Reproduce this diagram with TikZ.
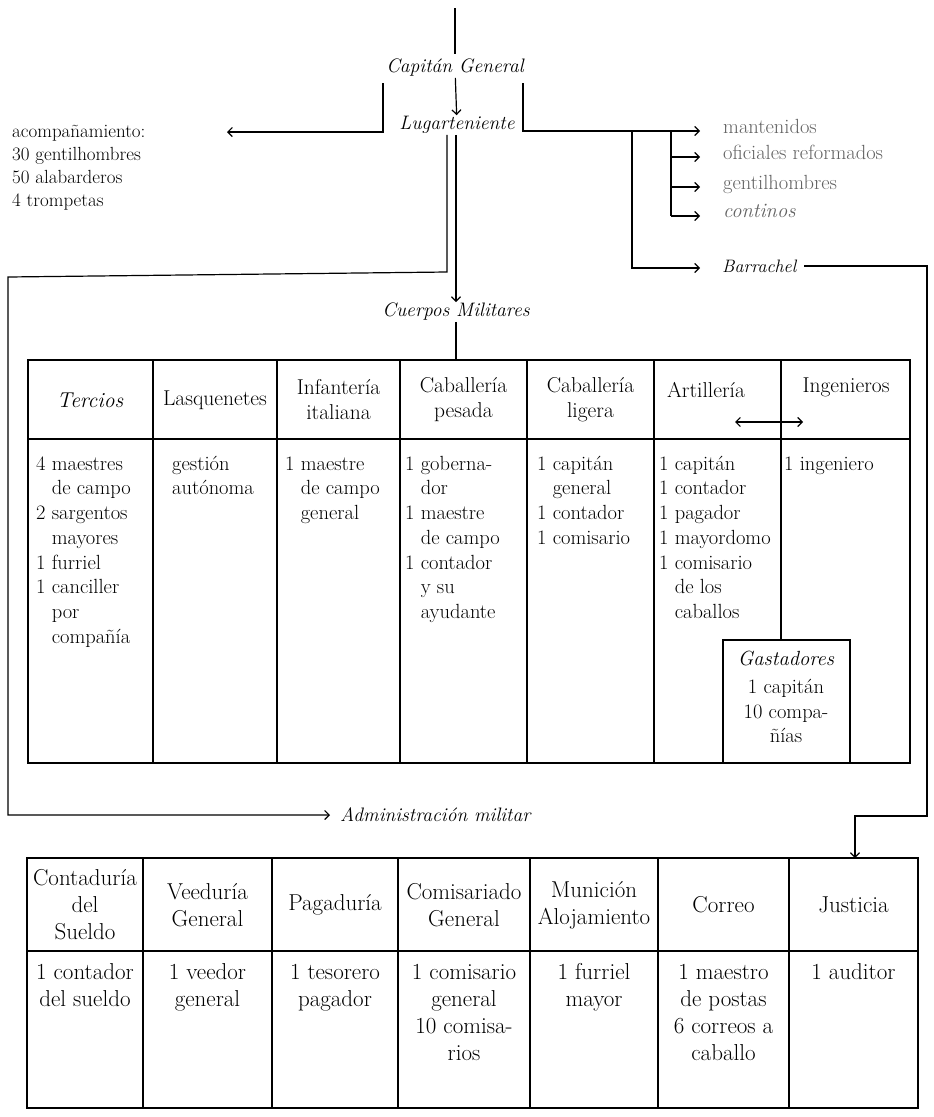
\documentclass[tikz,border=0pt]{standalone}
\usetikzlibrary{arrows.meta}
\newcommand{\bodyf}{\fontsize{20.5}{24.7}\selectfont}
\newcommand{\headf}{\fontsize{21.5}{25}\selectfont}
\newcommand{\botf}{\fontsize{23}{27}\selectfont}
\newcommand{\labf}{\itshape\fontsize{19.5}{23}\selectfont}
\newcommand{\leftf}{\fontsize{19}{23}\selectfont}
\begin{document}
\begin{tikzpicture}[x=1pt,y=-1pt,
  conn/.style={line width=1.2pt},
  tab/.style={line width=1.5pt},
  arr/.style={-{Straight Barb[length=4.5pt,width=9pt]}},
  lab/.style={font=\labf, inner sep=1pt},
  hdr/.style={font=\headf, align=center, inner sep=0pt},
  cell/.style={font=\bodyf, align=left, anchor=north west, inner sep=0pt},
  bhdr/.style={font=\botf, align=center, inner sep=0pt},
  bcell/.style={font=\botf, align=center, anchor=north, inner sep=0pt},
  lst/.style={font=\bodyf, anchor=base west, inner sep=0pt, text=black!62}
]
\useasboundingbox (0,0) rectangle (934,1117);

% ---- top of hierarchy
\coordinate (ttl) at (455,8);
\node[lab] (cg) at (455,68) {Capitán General};
\node[lab] (lug) at (457,125) {Lugarteniente};
\draw[conn] (ttl) -- ([yshift=4pt]cg.north);
\draw[conn,arr] (cg) -- (lug);

% ---- left bracket
\coordinate (lbt) at (383,83);
\coordinate (lbe) at (227,132);
\draw[conn,arr] (lbt) |- (lbe);
\node[font=\leftf, align=left, anchor=north west, inner sep=0pt] (acomp) at (12,121)
  {\strut acompañamiento:\\30 gentilhombres\\50 alabarderos\\4 trompetas};

% ---- right bracket
\coordinate (rbt) at (523,83);
\coordinate (m1) at (700,131);
\draw[conn,arr] (rbt) |- (m1);
\node[lst] (mant) at (723,133) {mantenidos};
\coordinate (bb) at (671,131);
\coordinate (bbe) at (671,216);
\draw[conn] (bb) -- (bbe);
\coordinate (o1) at (671,157); \coordinate (o2) at (700,157);
\coordinate (g1) at (671,187); \coordinate (g2) at (700,187);
\coordinate (c2) at (700,216);
\draw[conn,arr] (o1) -- (o2);
\draw[conn,arr] (g1) -- (g2);
\draw[conn,arr] (bbe) -- (c2);
\node[lst] (ofi) at (723,159) {oficiales reformados};
\node[lst] (gen) at (723,189) {gentilhombres};
\node[lst, font=\itshape\bodyf] (con) at (723,217) {continos};

\coordinate (ba) at (632,131);
\coordinate (b1) at (700,268);
\draw[conn,arr] (ba) |- (b1);
\node[lab, anchor=west, font=\itshape\fontsize{18}{21}\selectfont] (barr) at (721,266) {Barrachel};
\coordinate (rc1) at (927,266);
\coordinate (rc2) at (927,816);
\coordinate (rc3) at (855,816);
\coordinate (jtop) at (855,858);
\draw[conn,arr] ([xshift=7pt]barr.east) -- (rc1) -- (rc2) -- (rc3) -- (jtop);

% ---- down from Lugarteniente
\node[lab] (cm) at (456,312) {Cuerpos Militares};
\node[lab, anchor=west, inner xsep=10pt] (adm) at (330,815) {Administración militar};
\coordinate (l1) at (447,272);
\coordinate (l2) at (8,277);
\coordinate (l3) at (8,815);
\draw[conn,arr] ([xshift=-10pt]lug.south) -- (l1) -- (l2) -- (l3) -- (adm.west);
\draw[conn,arr] ([xshift=-1pt]lug.south) -- (cm.north);
\coordinate (ttop) at (456,360);
\draw[conn] (cm.south) -- (ttop);

% ---- top table
\draw[tab] (28,360) rectangle (910,763);
\draw[tab] (28,439) -- (910,439);
\foreach \x in {153,277,400,527,654} \draw[tab] (\x,360) -- (\x,763);
\draw[tab] (781,360) -- (781,640);
\draw[tab] (723,640) rectangle (850,763);

\node[hdr, font=\itshape\headf] (h1) at (90,400) {Tercios};
\node[hdr] (h2) at (215,400) {Lasquenetes};
\node[hdr] (h3) at (338.5,400) {Infantería\\italiana};
\node[hdr] (h4) at (463.5,400) {Caballería\\pesada};
\node[hdr] (h5) at (590.5,400) {Caballería\\ligera};
\node[hdr] (h6) at (706,390) {Artillería};
\node[hdr] (h7) at (846,387) {Ingenieros};
\coordinate (aa) at (781,422);
\coordinate (al) at (735,422);
\coordinate (ar) at (803,422);
\draw[conn,arr] (aa) -- (al);
\draw[conn,arr] (aa) -- (ar);

\node[cell] (c1) at (36,452.7) {\strut 4 maestres\\\hphantom{4 }de campo\\2 sargentos\\\hphantom{2 }mayores\\1 furriel\\1 canciller\\\hphantom{1 }por\\\hphantom{1 }compañía};
\node[cell] (c2b) at (172,452.7) {\strut gestión\\autónoma};
\node[cell] (c3) at (285,452.7) {\strut 1 maestre\\\hphantom{1 }de campo\\\hphantom{1 }general};
\node[cell] (c4) at (405,452.7) {\strut 1 goberna-\\\hphantom{1 }dor\\1 maestre\\\hphantom{1 }de campo\\1 contador\\\hphantom{1 }y su\\\hphantom{1 }ayudante};
\node[cell] (c5) at (537,452.7) {\strut 1 capitán\\\hphantom{1 }general\\1 contador\\1 comisario};
\node[cell] (c6) at (659,452.7) {\strut 1 capitán\\1 contador\\1 pagador\\1 mayordomo\\1 comisario\\\hphantom{1 }de los\\\hphantom{1 }caballos};
\node[cell] (c7) at (784,452.7) {\strut 1 ingeniero};

\node[hdr, font=\itshape\bodyf] (gas) at (786,658) {Gastadores};
\node[hdr, font=\bodyf, anchor=north] (gasb) at (786,676) {\strut 1 capitán\\10 compa-\\ñías};

% ---- bottom table
\draw[tab] (27,858) rectangle (918,1108);
\draw[tab] (27,951) -- (918,951);
\foreach \x in {143,272,398,530,658,789} \draw[tab] (\x,858) -- (\x,1108);

\node[bhdr] (d1) at (85,905) {Contaduría\\del\\Sueldo};
\node[bhdr] (d2) at (207.5,905) {Veeduría\\General};
\node[bhdr] (d3) at (335,905) {Pagaduría};
\node[bhdr] (d4) at (464,905) {Comisariado\\General};
\node[bhdr] (d5) at (594,905) {Munición\\Alojamiento};
\node[bhdr] (d6) at (723.5,905) {Correo};
\node[bhdr] (d7) at (853.5,905) {Justicia};

\node[bcell] (e1) at (85,960) {\strut 1 contador\\del sueldo};
\node[bcell] (e2) at (207.5,960) {\strut 1 veedor\\general};
\node[bcell] (e3) at (335,960) {\strut 1 tesorero\\pagador};
\node[bcell] (e4) at (464,960) {\strut 1 comisario\\general\\10 comisa-\\rios};
\node[bcell] (e5) at (594,960) {\strut 1 furriel\\mayor};
\node[bcell] (e6) at (723.5,960) {\strut 1 maestro\\de postas\\6 correos a\\caballo};
\node[bcell] (e7) at (853.5,960) {\strut 1 auditor};
\end{tikzpicture}
\end{document}
